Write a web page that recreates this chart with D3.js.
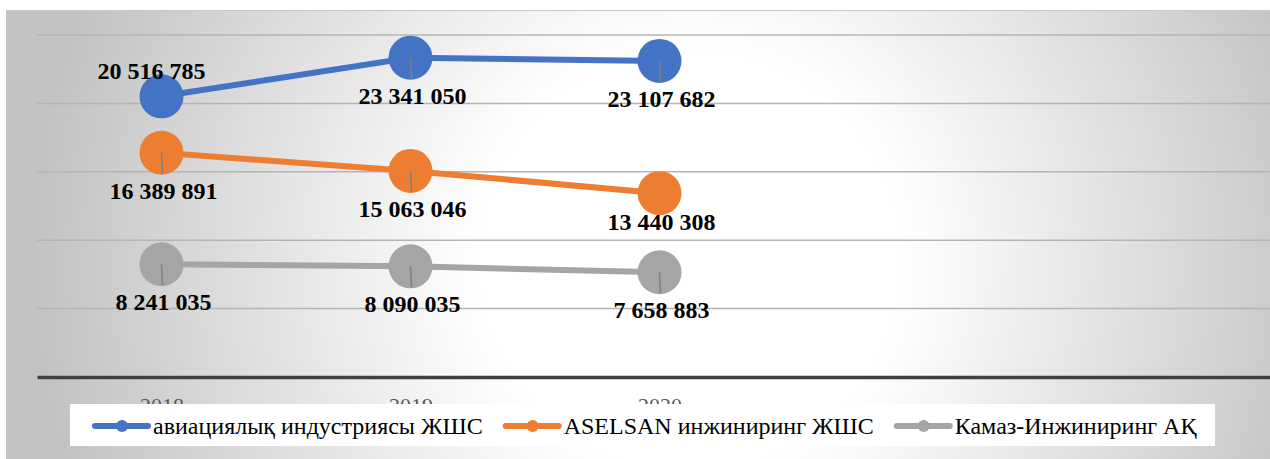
<!DOCTYPE html>
<html>
<head>
<meta charset="utf-8">
<script src="https://cdn.jsdelivr.net/npm/d3@7"></script>
<style>
  html, body { margin: 0; padding: 0; background: #fff; }
  svg { display: block; }
  text { font-family: "Liberation Serif", "Times New Roman", serif; }
</style>
</head>
<body>
<div id="chart"></div>
<script>
// Données du graphique
const years = [2018, 2019, 2020];
const seriesNames = ["авиациялық индустриясы ЖШС", "ASELSAN инжиниринг ЖШС", "Камаз-Инжиниринг АҚ"];
const aviation = [20516785, 23341050, 23107682];
const aselsan = [16389891, 15063046, 13440308];
const kamaz = [8241035, 8090035, 7658883];
const yTicks = [0, 5000000, 10000000, 15000000, 20000000, 25000000];

const series = [aviation, aselsan, kamaz];
const colors = ["#4472C4", "#ED7D31", "#A5A5A5"];
const serif = "'Liberation Serif', 'Times New Roman', serif";

const W = 1270, H = 459;
const svg = d3.select("#chart").append("svg")
    .attr("width", W).attr("height", H);

// Fond dégradé radial
const defs = svg.append("defs");
const grad = defs.append("radialGradient")
    .attr("id", "fond")
    .attr("gradientUnits", "userSpaceOnUse")
    .attr("cx", 690).attr("cy", 260).attr("r", 660);
grad.append("stop").attr("offset", "0").attr("stop-color", "#ffffff");
grad.append("stop").attr("offset", "0.32").attr("stop-color", "#ffffff");
grad.append("stop").attr("offset", "1").attr("stop-color", "#c2c2c2");

svg.append("rect")
    .attr("x", 6).attr("y", 10).attr("width", W - 6).attr("height", H - 10)
    .attr("fill", "url(#fond)");
svg.append("line")
    .attr("x1", 6).attr("y1", 10.5).attr("x2", W).attr("y2", 10.5)
    .attr("stroke", "#c8c8c8").attr("stroke-width", 1);

// Echelles
const x = d3.scaleLinear().domain([2017.5, 2022.5]).range([37, 1282]);
const y = d3.scaleLinear().domain([0, 25000000]).range([377, 35]);

// Lignes de grille
svg.append("g")
    .selectAll("line")
    .data(yTicks.filter(d => d > 0))
    .join("line")
    .attr("x1", 37).attr("x2", W)
    .attr("y1", d => y(d)).attr("y2", d => y(d))
    .attr("stroke", "#b4b4b4").attr("stroke-width", 1.5);

// Axe des X (étiquettes en partie cachées par la légende)
const xAxis = svg.append("g")
    .attr("transform", "translate(0," + y(0) + ")")
    .call(d3.axisBottom(x).tickValues(years).tickFormat(d3.format("d")).tickSize(0).tickPadding(20));
xAxis.select(".domain").attr("stroke", "#404040").attr("stroke-width", 3.5);
xAxis.selectAll("text")
    .attr("font-family", serif)
    .attr("font-size", 22).attr("fill", "#595959");

// Séries
const line = d3.line().x((d, i) => x(years[i])).y(d => y(d));
const fmt = d3.formatLocale({ decimal: ",", thousands: " ", grouping: [3], currency: ["", ""] }).format(",d");

const layer = svg.append("g");
series.forEach((vals, s) => {
    layer.append("path")
        .datum(vals)
        .attr("d", line)
        .attr("fill", "none")
        .attr("stroke", colors[s])
        .attr("stroke-width", 6);
    layer.selectAll(".pt" + s)
        .data(vals)
        .join("circle")
        .attr("cx", (d, i) => x(years[i]))
        .attr("cy", d => y(d))
        .attr("r", 22)
        .attr("fill", colors[s]);
});

// Etiquettes de données (sous le point, sauf la première)
const labels = svg.append("g");
series.forEach((vals, s) => {
    vals.forEach((v, i) => {
        const px = x(years[i]), py = y(v);
        let dy = 46, dx = 2;
        if (s === 0 && i === 0) { dy = -17; dx = -10; }
        if (s === 1 && i === 2) { dy = 37; }
        if (dy > 40) {
            labels.append("line")
                .attr("x1", px).attr("y1", py)
                .attr("x2", px + dx * 0.5).attr("y2", py + 21)
                .attr("stroke", "#7f7f7f").attr("stroke-width", 1.5);
        }
        labels.append("text")
            .attr("x", px + dx).attr("y", py + dy)
            .attr("text-anchor", "middle")
            .attr("font-family", serif)
            .attr("font-weight", "bold")
            .attr("font-size", 24)
            .attr("fill", "#000")
            .text(fmt(v));
    });
});

// Légende
const legend = svg.append("g");
legend.append("rect")
    .attr("x", 70).attr("y", 404).attr("width", 1145).attr("height", 42)
    .attr("fill", "#fff");
let lx = 95;
seriesNames.forEach((name, s) => {
    legend.append("line")
        .attr("x1", lx).attr("x2", lx + 53).attr("y1", 426).attr("y2", 426)
        .attr("stroke", colors[s]).attr("stroke-width", 6).attr("stroke-linecap", "round");
    legend.append("circle")
        .attr("cx", lx + 27).attr("cy", 426).attr("r", 6).attr("fill", colors[s]);
    const t = legend.append("text")
        .attr("x", lx + 58).attr("y", 434)
        .attr("font-family", serif)
        .attr("font-size", 24).attr("fill", "#000")
        .text(name);
    lx = lx + 58 + t.node().getComputedTextLength() + 23;
});
</script>
</body>
</html>
